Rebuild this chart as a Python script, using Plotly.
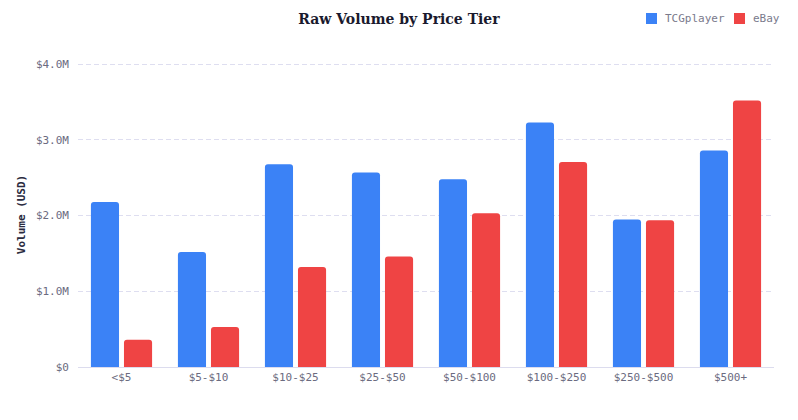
import plotly.graph_objects as go

categories = ["<$5", "$5-$10", "$10-$25", "$25-$50", "$50-$100", "$100-$250", "$250-$500", "$500+"]
tcgplayer = [2.18e6, 1.52e6, 2.68e6, 2.57e6, 2.48e6, 3.23e6, 1.95e6, 2.86e6]
ebay = [0.36e6, 0.53e6, 1.32e6, 1.46e6, 2.03e6, 2.71e6, 1.94e6, 3.52e6]
tick_vals = [0, 1e6, 2e6, 3e6, 4e6]
tick_text = ["$0", "$1.0M", "$2.0M", "$3.0M", "$4.0M"]
series_names = ["TCGplayer", "eBay"]
series_colors = ["#3b82f6", "#ef4444"]

mono = "DejaVu Sans Mono, Liberation Mono, monospace"

W, H = 798, 420
ML, MR, MT, MB = 78, 24, 62, 53
PW, PH = W - ML - MR, H - MT - MB

def px_x(x):
    return (x - ML) / PW

def px_y(y):
    return (H - MB - y) / PH

fig = go.Figure()
for name, vals, col in zip(series_names, [tcgplayer, ebay], series_colors):
    fig.add_trace(go.Bar(name=name, x=categories, y=vals, showlegend=False,
                         marker=dict(color=col, cornerradius=3, line=dict(width=0))))

# custom legend (squares + labels)
legend_items = [(646, 663), (734, 751)]
for (sx, tx), name, col in zip(legend_items, series_names, series_colors):
    fig.add_shape(type="rect", xref="paper", yref="paper",
                  x0=px_x(sx), x1=px_x(sx + 11), y0=px_y(24), y1=px_y(13),
                  fillcolor=col, line=dict(width=0), layer="above")
    fig.add_annotation(xref="paper", yref="paper", x=px_x(tx), y=px_y(18.5),
                       xanchor="left", yanchor="middle", showarrow=False,
                       text=name, font=dict(family=mono, size=11, color="#7a7a8c"))

fig.update_layout(
    width=W, height=H,
    margin=dict(l=ML, r=MR, t=MT, b=MB),
    paper_bgcolor="white", plot_bgcolor="white",
    barmode="group", bargap=0.24, bargroupgap=0.15,
    showlegend=False,
    title=dict(text="<b>Raw Volume by Price Tier</b>", x=0.5, xanchor="center",
               y=1 - 19 / H, yanchor="middle",
               font=dict(family="DejaVu Serif, serif", size=14, color="#1a1a2e")),
    font=dict(family=mono, size=11, color="#6b6b80"),
    xaxis=dict(showgrid=False, showline=True, linecolor="#dcdcee", linewidth=1,
               ticks="", tickfont=dict(family=mono, size=11, color="#6b6b80")),
    yaxis=dict(range=[0, 4.03e6], tickvals=tick_vals, ticktext=tick_text,
               showgrid=True, gridcolor="#dedef0", griddash="5px,3px", gridwidth=1,
               zeroline=False, showline=False, ticks="",
               ticklabelstandoff=8,
               tickfont=dict(family=mono, size=11, color="#6b6b80"),
               title=dict(text="<b>Volume (USD)</b>", standoff=8,
                          font=dict(family=mono, size=11, color="#2a2a3e"))),
)

fig.write_html("out.html")
